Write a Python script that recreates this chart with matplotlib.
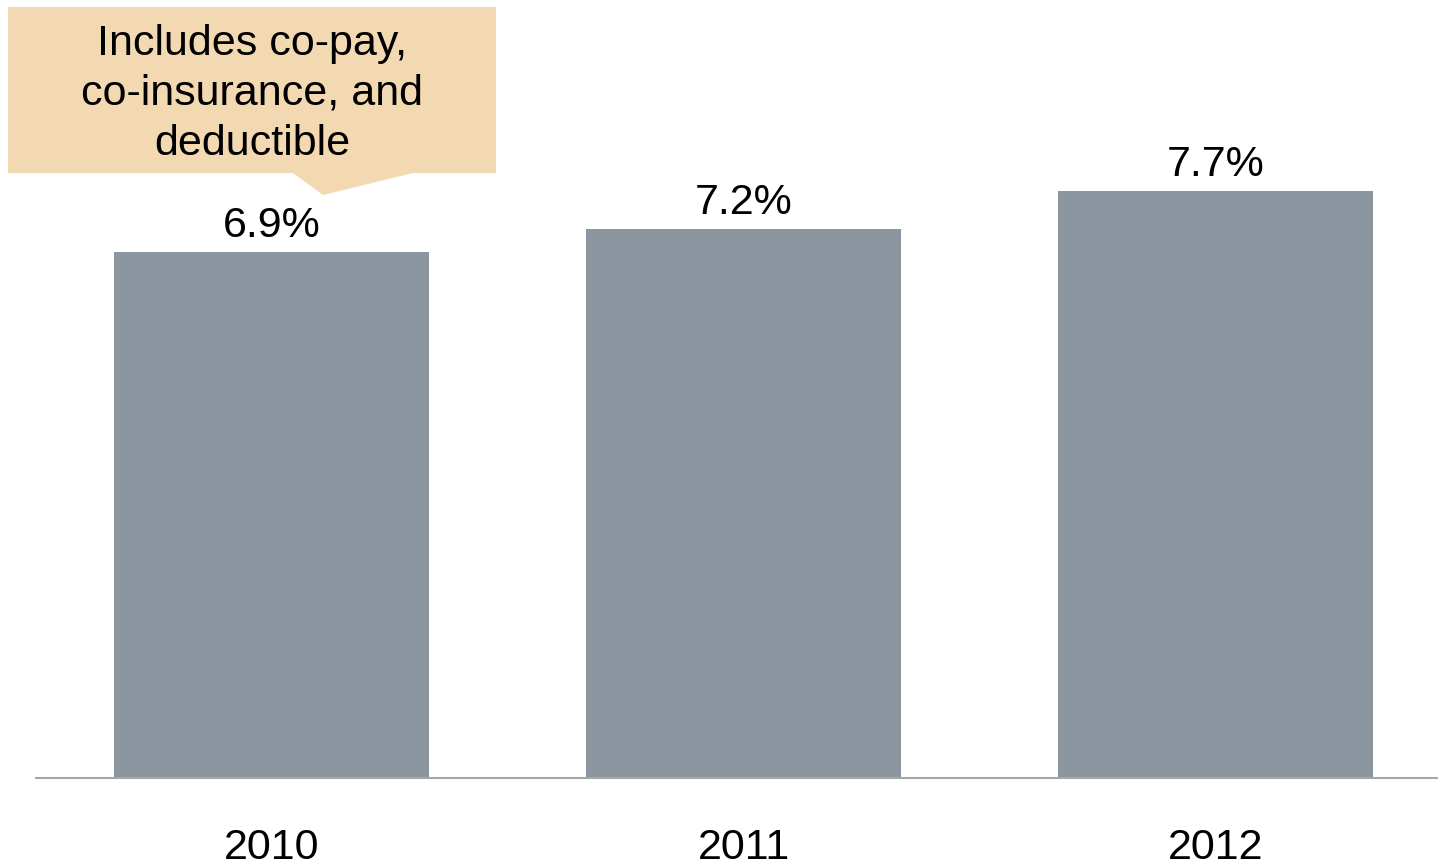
import matplotlib.pyplot as plt
from matplotlib.patches import Polygon

plt.rcParams['font.family'] = ['Liberation Sans', 'DejaVu Sans']

years = ['2010', '2011', '2012']
share = [6.9, 7.2, 7.7]
note = "Includes co-pay,\nco-insurance, and\ndeductible"

W, H = 1438, 864
fig = plt.figure(figsize=(W / 100, H / 100), dpi=100)

# axes spans from the baseline (y=778px) up to the top edge
ax = fig.add_axes([36 / W, (H - 778) / H, 1 - 36 / W, 778 / H])
x = range(len(years))
ax.bar(x, share, width=0.667, color='#8C96A0')
ax.set_xlim(-0.499, 2.471)
ax.set_ylim(0, 778 / 76.2)

for s in ['top', 'right', 'left']:
    ax.spines[s].set_visible(False)
ax.spines['bottom'].set_color('#A6A6A6')
ax.spines['bottom'].set_linewidth(1.5)
ax.set_yticks([])
ax.set_xticks([])

for i, v in zip(x, share):
    ax.annotate(f"{v:.1f}%", (i, v), xytext=(0, 15 * 0.72), textcoords='offset points',
                ha='center', va='baseline', fontsize=31)
    ax.annotate(years[i], (i, 0), xycoords=('data', 'axes fraction'),
                xytext=(0, -81 * 0.72), textcoords='offset points',
                ha='center', va='baseline', fontsize=31, annotation_clip=False)

# callout box with pointer, in figure pixels (origin bottom-left)
pts = [(8, 7), (496, 7), (496, 173), (413, 173), (323, 195), (293, 173), (8, 173)]
poly = Polygon([(px / W, (H - py) / H) for px, py in pts], closed=True,
               transform=fig.transFigure, facecolor='#F2D9B2', edgecolor='none')
fig.patches.append(poly)
for k, line in enumerate(note.split('\n')):
    fig.text(252 / W, (H - (55 + 50 * k)) / H, line, ha='center', va='baseline',
             fontsize=31)

fig.savefig('out.png', dpi=100)
